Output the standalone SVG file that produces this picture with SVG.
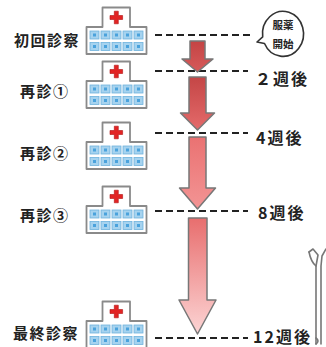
<svg xmlns="http://www.w3.org/2000/svg" xmlns:xlink="http://www.w3.org/1999/xlink" width="326" height="347" viewBox="0 0 326 347">
  <style>
    .label { font-family: "Noto Sans CJK JP", "Noto Sans", sans-serif; font-weight: 700; fill: #222; font-size: 15px; letter-spacing: 1.5px; }
    .week { font-family: "Noto Sans CJK JP", "Noto Sans", sans-serif; font-weight: 700; fill: #222; font-size: 16px; letter-spacing: 2px; }
    .bubble-text { font-family: "Noto Sans CJK JP", sans-serif; font-weight: 700; fill: #222; font-size: 10.5px; }
    .dash { stroke: #222; stroke-width: 2; stroke-dasharray: 7 4; fill: none; }
    .arrow { stroke: #777; stroke-width: 1.5; stroke-linejoin: round; }
    .bldg { fill: #fff; stroke: #8a8a8a; stroke-width: 1.8; stroke-linejoin: round; }
    .win { fill: #a6d3ef; stroke: #6fb2dd; stroke-width: 0.8; }
    .pane { fill: #4aa2dc; }
    .cross { fill: #e22424; stroke: #b01010; stroke-width: 0.6; }
    .figure { fill: none; stroke: #777; stroke-width: 1.6; stroke-linecap: round; stroke-linejoin: round; }
  </style>
  <defs>
    <linearGradient id="g1" x1="0" y1="0" x2="0" y2="1">
      <stop offset="0" stop-color="#c44444"/>
      <stop offset="1" stop-color="#d65a5a"/>
    </linearGradient>
    <linearGradient id="g2" x1="0" y1="0" x2="0" y2="1">
      <stop offset="0" stop-color="#c44646"/>
      <stop offset="1" stop-color="#e46a6a"/>
    </linearGradient>
    <linearGradient id="g3" x1="0" y1="0" x2="0" y2="1">
      <stop offset="0" stop-color="#ea7272"/>
      <stop offset="1" stop-color="#f39494"/>
    </linearGradient>
    <linearGradient id="g4" x1="0" y1="0" x2="0" y2="1">
      <stop offset="0" stop-color="#e86e6e"/>
      <stop offset="1" stop-color="#fcd4d4"/>
    </linearGradient>
    <!-- hospital icon, origin at top-left of the main block -->
    <g id="hospital">
      <path class="bldg" d="M0,27 V0 H16 V-19.5 H43.5 V0 H60 V27 Z"/>
      <path class="cross" d="M27.8,-15.8 h4 v4.3 h4.3 v4 h-4.3 v4.3 h-4 v-4.3 h-4.3 v-4 h4.3 Z"/>
      <g>
        <rect class="win" x="3.5" y="4" width="9" height="8"/>
        <rect class="win" x="14.5" y="4" width="9" height="8"/>
        <rect class="win" x="25.5" y="4" width="9" height="8"/>
        <rect class="win" x="36.5" y="4" width="9" height="8"/>
        <rect class="win" x="47.5" y="4" width="9" height="8"/>
        <rect class="win" x="3.5" y="15.5" width="9" height="8"/>
        <rect class="win" x="14.5" y="15.5" width="9" height="8"/>
        <rect class="win" x="25.5" y="15.5" width="9" height="8"/>
        <rect class="win" x="36.5" y="15.5" width="9" height="8"/>
        <rect class="win" x="47.5" y="15.5" width="9" height="8"/>
        <rect class="pane" x="6.5" y="6.5" width="3" height="3"/>
        <rect class="pane" x="17.5" y="6.5" width="3" height="3"/>
        <rect class="pane" x="28.5" y="6.5" width="3" height="3"/>
        <rect class="pane" x="39.5" y="6.5" width="3" height="3"/>
        <rect class="pane" x="50.5" y="6.5" width="3" height="3"/>
        <rect class="pane" x="6.5" y="18" width="3" height="3"/>
        <rect class="pane" x="17.5" y="18" width="3" height="3"/>
        <rect class="pane" x="28.5" y="18" width="3" height="3"/>
        <rect class="pane" x="39.5" y="18" width="3" height="3"/>
        <rect class="pane" x="50.5" y="18" width="3" height="3"/>
      </g>
    </g>
  </defs>

  <rect width="326" height="347" fill="#fff"/>

  <!-- visit nodes -->
  <g id="visit-first">
    <text class="label" x="14" y="46">初回診察</text>
    <use href="#hospital" x="86.5" y="27"/>
  </g>
  <g id="visit-2">
    <text class="label" x="20" y="97">再診①</text>
    <use href="#hospital" x="86.5" y="81"/>
  </g>
  <g id="visit-3">
    <text class="label" x="20" y="159">再診②</text>
    <use href="#hospital" x="86.5" y="142"/>
  </g>
  <g id="visit-4">
    <text class="label" x="20" y="221">再診③</text>
    <use href="#hospital" x="86.5" y="206"/>
  </g>
  <g id="visit-final">
    <text class="label" x="13" y="339">最終診察</text>
    <use href="#hospital" x="86.5" y="321"/>
  </g>

  <!-- medication start bubble -->
  <g id="bubble-start">
    <path d="M264.5,43.5 A20.5,22.5 0 1 0 262.7,36.8 L257,42 Z" fill="#fff" stroke="#333" stroke-width="1.6" stroke-linejoin="round"/>
    <text class="bubble-text" x="283" y="29" text-anchor="middle">服薬</text>
    <text class="bubble-text" x="283" y="48" text-anchor="middle">開始</text>
  </g>

  <!-- week labels -->
  <g id="week-labels">
    <text class="week" x="255" y="85">２週後</text>
    <text class="week" x="256" y="144">4週後</text>
    <text class="week" x="258" y="219">8週後</text>
    <text class="week" x="253" y="343">12週後</text>
  </g>

  <!-- person at lower right -->
  <g id="person">
    <path class="figure" d="M309,252 L313,249 L318,255 L316,266 L316,344"/>
    <path class="figure" d="M309,252 Q311,262 316,266"/>
    <path class="figure" d="M321,344 L321,266 L322,256 L326,249"/>
    <path class="figure" d="M316,338 Q320,341 316,344"/>
  </g>

  <!-- connectors: timeline rules and arrows -->
  <g id="connectors">
    <line class="dash" x1="155" y1="35" x2="250" y2="35"/>
    <line class="dash" x1="155" y1="71" x2="248" y2="71"/>
    <line class="dash" x1="155" y1="133" x2="248" y2="133"/>
    <line class="dash" x1="155" y1="211" x2="248" y2="211"/>
    <line class="dash" x1="155" y1="338" x2="248" y2="338"/>

    <polygon class="arrow" fill="url(#g1)" points="190,41 205,41 205,59 213,59 197.5,72 182,59 190,59"/>
    <polygon class="arrow" fill="url(#g2)" points="189,77 206,77 206,113 214.5,113 197.5,130 180.5,113 189,113"/>
    <polygon class="arrow" fill="url(#g3)" points="189,137 206,137 206,188 215.5,188 197.5,209 179.5,188 189,188"/>
    <polygon class="arrow" fill="url(#g4)" points="188.5,218 207,218 207,300 216,300 197.5,334 179,300 188.5,300"/>
  </g>
</svg>
